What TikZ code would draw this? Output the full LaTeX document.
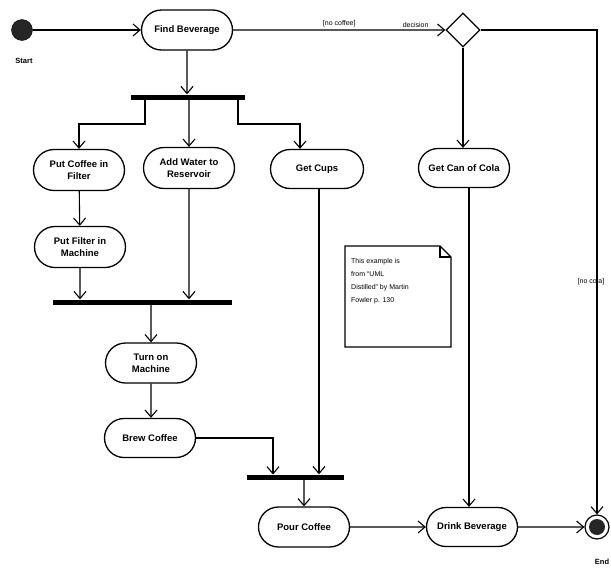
\documentclass[tikz,border=0pt]{standalone}
\usepackage{fontspec}
\setmainfont{Liberation Sans}
\usetikzlibrary{shapes.misc,shapes.geometric,arrows.meta}
\pgfdeclarelayer{edgelayer}
\pgfdeclarelayer{nodelayer}
\pgfsetlayers{edgelayer,nodelayer,main}
\tikzset{x=1pt,y=-1pt,font=\fontsize{9.5}{12}\selectfont\bfseries}
\tikzstyle{none}=[inner sep=0pt]
\tikzstyle{act}=[rounded rectangle,draw,line width=1.3pt,fill=white,minimum width=95pt,minimum height=39pt,align=center,inner sep=2pt]
\tikzstyle{bar}=[rectangle,fill=black,inner sep=0pt,minimum height=5pt]
\tikzstyle{dec}=[diamond,draw,line width=1.3pt,fill=white,inner sep=0pt,minimum size=34pt]
\tikzstyle{startdot}=[circle,fill=black!85,draw,inner sep=0pt,minimum size=21pt]
\tikzstyle{enddot}=[circle,draw,line width=1.2pt,fill=white,inner sep=0pt,minimum size=24pt,path picture={\fill[black!85] (path picture bounding box.center) circle (8pt);}]
\tikzstyle{guard}=[font=\fontsize{7}{8}\selectfont,inner sep=2pt]
\tikzstyle{flow}=[line width=1.1pt,-{Straight Barb[length=7pt,width=12pt,line width=1.1pt]}]

\begin{document}
\begin{tikzpicture}
	\useasboundingbox (0,0) rectangle (611,568);
	\begin{pgfonlayer}{nodelayer}
		\node [style=startdot] (0) at (22, 30) {};
		\node [style=act, minimum height=40pt] (1) at (187, 30) {Find Beverage};
		\node [style=dec] (2) at (463, 30) {};
		\node [style=bar, minimum width=114pt] (3) at (188, 97) {};
		\node [style=act, minimum height=41pt] (4) at (79, 170) {Put Coffee in\\Filter};
		\node [style=act, minimum height=41pt] (5) at (189, 168) {Add Water to\\Reservoir};
		\node [style=act, minimum width=97pt] (6) at (317, 169) {Get Cups};
		\node [style=act] (7) at (464, 168) {Get Can of Cola};
		\node [style=act, minimum height=41pt] (8) at (80, 247) {Put Filter in\\Machine};
		\node [style=bar, minimum width=179pt] (9) at (142, 302) {};
		\node [style=act, minimum height=40pt] (10) at (151, 363) {Turn on\\Machine};
		\node [style=act] (11) at (150, 438) {Brew Coffee};
		\node [style=bar, minimum width=97pt] (12) at (295, 477) {};
		\node [style=act, minimum height=40pt] (13) at (304, 527) {Pour Coffee};
		\node [style=act] (14) at (472, 527) {Drink Beverage};
		\node [style=enddot] (15) at (597, 527) {};
		\node [font=\fontsize{7.5}{8}\selectfont\bfseries] (16) at (24, 61) {Start};
		\node [font=\fontsize{7.5}{8}\selectfont\bfseries] (17) at (602, 562) {End};
		\node [style=none] (18) at (145, 99) {};
		\node [style=none] (19) at (79, 124) {};
		\node [style=none] (20) at (238, 99) {};
		\node [style=none] (21) at (300, 124) {};
		\node [style=none] (22) at (273, 474.5) {};
		% note
		\draw [line width=1.1pt, fill=white] (345, 246) -- (440, 246) -- (451, 257) -- (451, 347) -- (345, 347) -- cycle;
		\draw [line width=1.1pt] (440, 246) -- (440, 257) -- (451, 257);
		\node [style=guard, anchor=north west, align=left, font=\fontsize{7}{13}\selectfont] (23) at (349, 256) {This example is\\from ``UML\\Distilled'' by Martin\\Fowler p. 130};
	\end{pgfonlayer}
	\begin{pgfonlayer}{edgelayer}
		\draw [style=flow] (0) to (1);
		\draw [style=flow] (1) to node [style=guard, above, pos=0.5] {[no coffee]} node [style=guard, above, pos=0.86] {decision} (2);
		\draw [style=flow] (2.east) -| node [style=guard, pos=0.76, xshift=-6pt] {[no cola]} (15);
		\draw [style=flow] (2) to (2 |- 7.north);
		\draw [style=flow] (1) to (1 |- 3.north);
		\draw [style=flow] (18.center) |- (19.center) to (4);
		\draw [style=flow] (3.south -| 5) to (5);
		\draw [style=flow] (20.center) |- (21.center) to (21 |- 6.north);
		\draw [style=flow] (4) to (8);
		\draw [style=flow] (8) to (8 |- 9.north);
		\draw [style=flow] (5) to (5 |- 9.north);
		\draw [style=flow] (9.south -| 10) to (10);
		\draw [style=flow] (10) to (10 |- 11.north);
		\draw [style=flow] (11) -| (22.center);
		\draw [style=flow] ([xshift=2pt]6.south) to ([xshift=2pt]6 |- 12.north);
		\draw [style=flow] (12.south -| 13) to (13);
		\draw [style=flow] ([xshift=-3pt]7.south -| 14) to ([xshift=-3pt]14.north);
		\draw [style=flow] (13) to (14);
		\draw [style=flow] (14) to (15);
	\end{pgfonlayer}
\end{tikzpicture}
\end{document}
